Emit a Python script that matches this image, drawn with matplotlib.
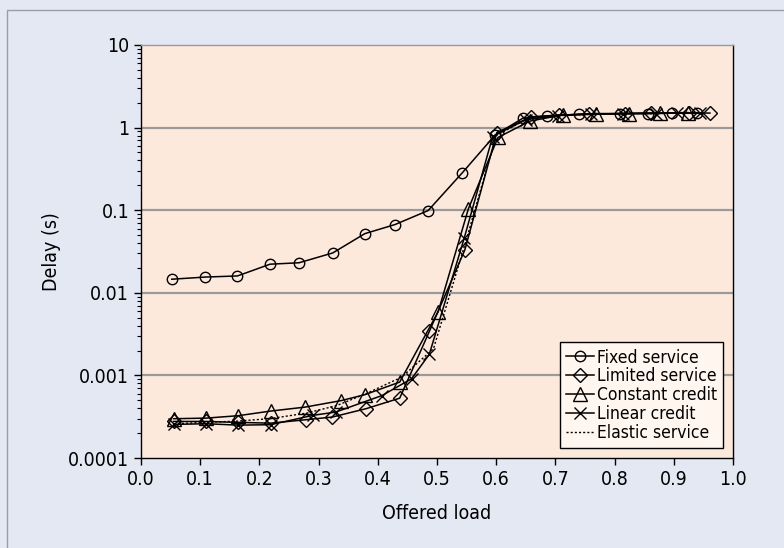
import matplotlib
matplotlib.use("Agg")
import matplotlib.pyplot as plt
from matplotlib import font_manager as fm
from matplotlib.ticker import FixedLocator, LogLocator, NullFormatter
from matplotlib.patches import Rectangle

# pick a condensed humanist font if one is installed, else Lato
cond = None
for f in fm.fontManager.ttflist:
    if ('Narrow' in f.name or 'Condensed' in f.name or
            f.stretch in ('condensed', 'semi-condensed', 'extra-condensed')):
        if f.weight in (400, 'normal', 'regular') and f.style == 'normal':
            cond = f
            break
if cond is not None:
    plt.rcParams['font.family'] = [cond.name, 'DejaVu Sans']
    plt.rcParams['font.stretch'] = cond.stretch
    FS = 14
    LFS = 12.5
else:
    plt.rcParams['font.family'] = ['Lato', 'DejaVu Sans']
    FS = 13.5
    LFS = 12

# ---------------- data ----------------
fixed_x = [0.052, 0.108, 0.163, 0.218, 0.267, 0.324, 0.378, 0.429, 0.485, 0.543, 0.598,
           0.645, 0.685, 0.740, 0.809, 0.856, 0.897, 0.940]
fixed_y = [0.0146, 0.0155, 0.016, 0.0222, 0.0231, 0.0304, 0.052, 0.067, 0.099, 0.285, 0.81,
           1.30, 1.38, 1.45, 1.48, 1.48, 1.50, 1.50]

limited_x = [0.055, 0.110, 0.164, 0.219, 0.279, 0.323, 0.380, 0.437, 0.487, 0.547, 0.601,
             0.659, 0.706, 0.757, 0.818, 0.862, 0.925, 0.961]
limited_y = [0.000277, 0.000277, 0.00027, 0.000264, 0.000291, 0.000313, 0.000395, 0.00053,
             0.0034, 0.033, 0.87, 1.35, 1.42, 1.45, 1.48, 1.50, 1.50, 1.50]

constant_x = [0.055, 0.110, 0.164, 0.219, 0.277, 0.338, 0.378, 0.437, 0.502, 0.553, 0.603,
              0.657, 0.712, 0.769, 0.824, 0.877, 0.924]
constant_y = [0.000299, 0.000304, 0.000325, 0.00037, 0.000413, 0.000495, 0.000584, 0.00083,
              0.0059, 0.104, 0.76, 1.20, 1.42, 1.48, 1.48, 1.50, 1.52]

linear_x = [0.055, 0.110, 0.164, 0.219, 0.290, 0.329, 0.407, 0.457, 0.487, 0.546, 0.594,
            0.650, 0.705, 0.760, 0.815, 0.870, 0.905, 0.944]
linear_y = [0.000255, 0.00026, 0.00025, 0.000253, 0.000328, 0.00036, 0.00057, 0.00091,
            0.0018, 0.046, 0.78, 1.25, 1.40, 1.45, 1.48, 1.48, 1.50, 1.50]

elastic_x = [0.055, 0.110, 0.164, 0.219, 0.280, 0.330, 0.380, 0.440, 0.494, 0.550, 0.600,
             0.650, 0.700, 0.760, 0.820, 0.870, 0.920, 0.950]
elastic_y = [0.00026, 0.00027, 0.00028, 0.00030, 0.00035, 0.00043, 0.00060, 0.00095,
             0.0021, 0.045, 0.80, 1.25, 1.40, 1.45, 1.48, 1.48, 1.50, 1.50]

x_ticks = [0.0, 0.1, 0.2, 0.3, 0.4, 0.5, 0.6, 0.7, 0.8, 0.9, 1.0]
x_ticklabels = ["0.0", "0.1", "0.2", "0.3", "0.4", "0.5", "0.6", "0.7", "0.8", "0.9", "1.0"]
y_ticks = [0.0001, 0.001, 0.01, 0.1, 1, 10]
y_ticklabels = ["0.0001", "0.001", "0.01", "0.1", "1", "10"]

# ---------------- figure ----------------
fig = plt.figure(figsize=(7.84, 5.48), dpi=100)
fig.patch.set_facecolor('#e4e8f3')
fig.patches.append(Rectangle((7 / 784, -0.02), 1.05, 1 - 10 / 548 + 0.02,
                             transform=fig.transFigure, fill=False,
                             edgecolor='#9a9ca6', linewidth=1.0, zorder=0))

ax = fig.add_axes([141 / 784, 1 - 458 / 548, (733 - 141) / 784, (458 - 45) / 548])
ax.set_facecolor('#fde9dc')
ax.set_yscale('log')
ax.set_xlim(0, 1)
ax.set_ylim(0.0001, 10)

for v in [0.001, 0.01, 0.1, 1]:
    ax.axhline(v, color='#9a9a9a', linewidth=1.6, zorder=1)

lw = 1.1
mk = dict(markerfacecolor='none', markeredgecolor='black', markeredgewidth=1.0)
ax.plot(fixed_x, fixed_y, color='black', lw=lw, marker='o', markersize=7.5,
        label='Fixed service', zorder=3, **mk)
ax.plot(limited_x, limited_y, color='black', lw=lw, marker='D', markersize=7.5,
        label='Limited service', zorder=3, **mk)
ax.plot(constant_x, constant_y, color='black', lw=lw, marker='^', markersize=10,
        label='Constant credit', zorder=3, **mk)
ax.plot(linear_x, linear_y, color='black', lw=lw, marker='x', markersize=8,
        label='Linear credit', zorder=3, **mk)
ax.plot(elastic_x, elastic_y, color='black', lw=1.0, linestyle=(0, (1.5, 1.5)),
        label='Elastic service', zorder=3)

ax.set_xticks(x_ticks)
ax.set_xticklabels(x_ticklabels)
ax.yaxis.set_major_locator(FixedLocator(y_ticks))
ax.set_yticklabels(y_ticklabels)
ax.yaxis.set_minor_locator(LogLocator(base=10, subs=range(2, 10), numticks=20))
ax.yaxis.set_minor_formatter(NullFormatter())

ax.tick_params(axis='both', which='major', direction='out', length=5, width=1.0,
               labelsize=FS, colors='black')
ax.tick_params(axis='y', which='minor', direction='out', length=3, width=0.8)
ax.tick_params(axis='x', which='minor', bottom=False)

for s in ['left', 'bottom', 'right']:
    ax.spines[s].set_color('black')
    ax.spines[s].set_linewidth(1.0)
ax.spines['top'].set_color('#9a9a9a')
ax.spines['top'].set_linewidth(1.0)

ax.set_xlabel('Offered load', fontsize=FS, labelpad=11)
ax.set_ylabel('Delay (s)', fontsize=FS, labelpad=5)

leg = ax.legend(loc='lower right', bbox_to_anchor=(0.983, 0.024), fontsize=LFS,
                frameon=True, fancybox=False, edgecolor='black', facecolor='#fff6ef',
                framealpha=1.0, handlelength=1.6, handletextpad=0.15,
                labelspacing=0.05, borderpad=0.35, borderaxespad=0.0)
leg.get_frame().set_linewidth(1.0)

fig.savefig('out.png', dpi=100, facecolor=fig.get_facecolor())
